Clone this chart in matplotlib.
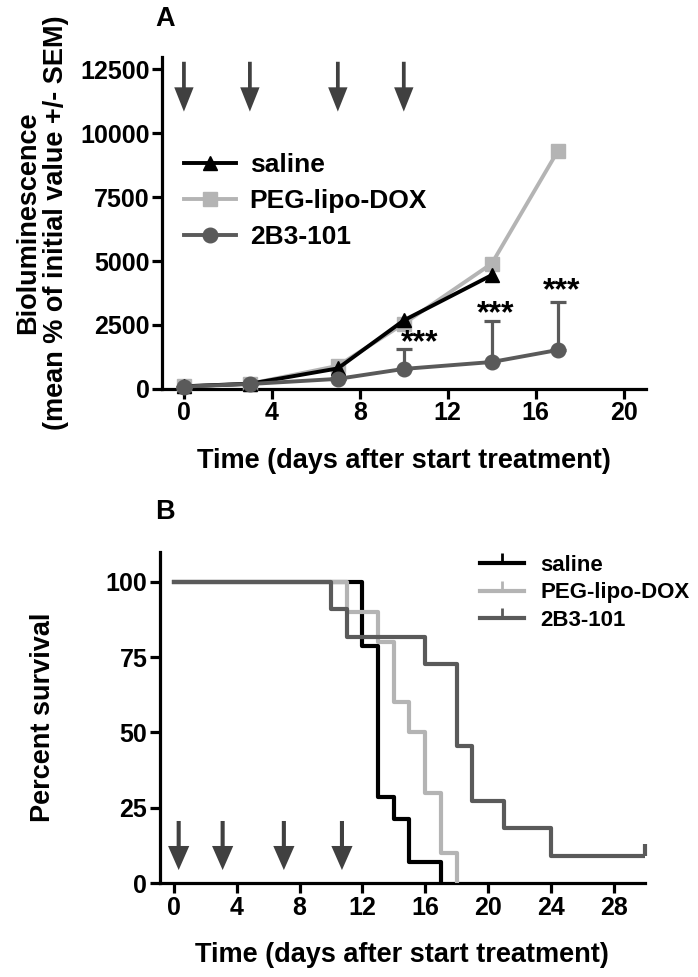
import matplotlib
matplotlib.use("Agg")
import matplotlib.pyplot as plt
from matplotlib.lines import Line2D

plt.rcParams['font.family'] = ['Liberation Sans', 'DejaVu Sans']
plt.rcParams['font.weight'] = 'bold'
plt.rcParams['axes.labelweight'] = 'bold'

# colours
c_saline = '#000000'
c_peg = '#b4b4b4'
c_2b3 = '#5a5a5a'
c_arrow = '#404040'

# ---- panel A data: bioluminescence (mean % of initial value)
days_saline = [0, 3, 7, 10, 14]
lum_saline = [100, 200, 800, 2680, 4450]
days_peg = [0, 3, 7, 10, 14, 17]
lum_peg = [100, 200, 900, 2550, 4900, 9300]
days_2b3 = [0, 3, 7, 10, 14, 17]
lum_2b3 = [90, 190, 390, 780, 1050, 1520]
sem_2b3 = [0, 0, 0, 760, 1600, 1880]
star_days = [10.7, 14.2, 17.2]
star_vals = [1800, 2920, 3830]
arrows_a = [0, 3, 7, 10]

# ---- panel B data: Kaplan-Meier survival
surv_t_saline = [0, 12, 13, 14, 15, 17]
surv_saline = [100, 78.6, 28.6, 21.4, 7.1, 0]
surv_t_peg = [0, 11, 13, 14, 15, 16, 17, 18]
surv_peg = [100, 90, 80, 60, 50, 30, 10, 0]
surv_t_2b3 = [0, 10, 11, 16, 18, 19, 21, 24, 30]
surv_2b3 = [100, 90.9, 81.8, 72.7, 45.5, 27.3, 18.2, 9.1, 9.1]
censor_t_2b3 = [30]
censor_s_2b3 = [9.1]
arrows_b = [0.3, 3.1, 7.0, 10.7]

lw_axis = 2.3
fs_tick = 18
fs_label = 19.5

fig = plt.figure(figsize=(6.98, 9.77), dpi=100)


def style_axes(ax):
    for s in ['top', 'right']:
        ax.spines[s].set_visible(False)
    for s in ['left', 'bottom']:
        ax.spines[s].set_linewidth(lw_axis)
    ax.tick_params(width=lw_axis, length=7, labelsize=fs_tick, pad=2)
    for lab in ax.get_xticklabels() + ax.get_yticklabels():
        lab.set_fontweight('bold')


# ================= panel A
axA = fig.add_axes([0.232, 0.602, 0.693, 0.340])
axA.plot(days_peg, lum_peg, color=c_peg, lw=2.8, marker='s', ms=10,
         zorder=3, clip_on=False)
axA.plot(days_saline, lum_saline, color=c_saline, lw=2.8, marker='^', ms=10,
         zorder=4, clip_on=False)
axA.errorbar(days_2b3, lum_2b3, yerr=[[0] * len(sem_2b3), sem_2b3],
             color=c_2b3, lw=2.8, marker='o', ms=10.5, elinewidth=2.3,
             capsize=6, capthick=2.3, zorder=5, clip_on=False)
for d, v in zip(star_days, star_vals):
    axA.text(d, v, '***', ha='center', va='center', fontsize=23,
             fontweight='bold')
for d in arrows_a:
    axA.arrow(d, 12800, 0, -1950, width=0.17, head_width=0.88,
              head_length=950, length_includes_head=True, color=c_arrow,
              lw=0)

axA.set_xlim(-1, 21)
axA.set_ylim(0, 13000)
axA.set_xticks([0, 4, 8, 12, 16, 20])
axA.set_yticks([0, 2500, 5000, 7500, 10000, 12500])
style_axes(axA)
axA.set_xlabel('Time (days after start treatment)', fontsize=fs_label,
               labelpad=16)
axA.set_ylabel('Bioluminescence\n(mean % of initial value +/- SEM)',
               fontsize=fs_label, labelpad=8, linespacing=1.1)

leg_a = [Line2D([0], [0], color=c_saline, lw=2.8, marker='^', ms=10),
         Line2D([0], [0], color=c_peg, lw=2.8, marker='s', ms=10),
         Line2D([0], [0], color=c_2b3, lw=2.8, marker='o', ms=10.5)]
axA.legend(leg_a, ['saline', 'PEG-lipo-DOX', '2B3-101'], loc='center left',
           bbox_to_anchor=(0.045, 0.565), frameon=False, fontsize=19,
           handlelength=2.0, handletextpad=0.5, labelspacing=0.45,
           borderpad=0, borderaxespad=0)
fig.text(0.236, 0.981, 'A', fontsize=fs_label, fontweight='bold',
         ha='center', va='center')

# ================= panel B
axB = fig.add_axes([0.229, 0.0962, 0.695, 0.339])
axB.step(surv_t_saline, surv_saline, where='post', color=c_saline, lw=3,
         zorder=3)
axB.step(surv_t_peg, surv_peg, where='post', color=c_peg, lw=3, zorder=4)
axB.step(surv_t_2b3, surv_2b3, where='post', color=c_2b3, lw=3, zorder=5)
axB.plot(censor_t_2b3, censor_s_2b3, ls='none', marker=2, ms=9, mew=3,
         color=c_2b3, zorder=5, clip_on=False)
for d in arrows_b:
    axB.arrow(d, 20.6, 0, -16.3, width=0.26, head_width=1.35,
              head_length=8, length_includes_head=True, color=c_arrow, lw=0)

axB.set_xlim(-0.9, 30)
axB.set_ylim(0, 110)
axB.set_xticks([0, 4, 8, 12, 16, 20, 24, 28])
axB.set_yticks([0, 25, 50, 75, 100])
style_axes(axB)
axB.set_xlabel('Time (days after start treatment)', fontsize=fs_label,
               labelpad=16)
axB.set_ylabel('Percent survival', fontsize=fs_label, labelpad=36)

leg_b = [Line2D([0], [0], color=c, lw=3, marker=2, ms=7, mew=2)
         for c in (c_saline, c_peg, c_2b3)]
axB.legend(leg_b, ['saline', 'PEG-lipo-DOX', '2B3-101'], loc='center left',
           bbox_to_anchor=(0.66, 0.876), frameon=False, fontsize=16,
           handlelength=2.0, handletextpad=0.7, labelspacing=0.3,
           borderpad=0, borderaxespad=0)
fig.text(0.236, 0.476, 'B', fontsize=fs_label, fontweight='bold',
         ha='center', va='center')

fig.savefig('out.png', dpi=100)
